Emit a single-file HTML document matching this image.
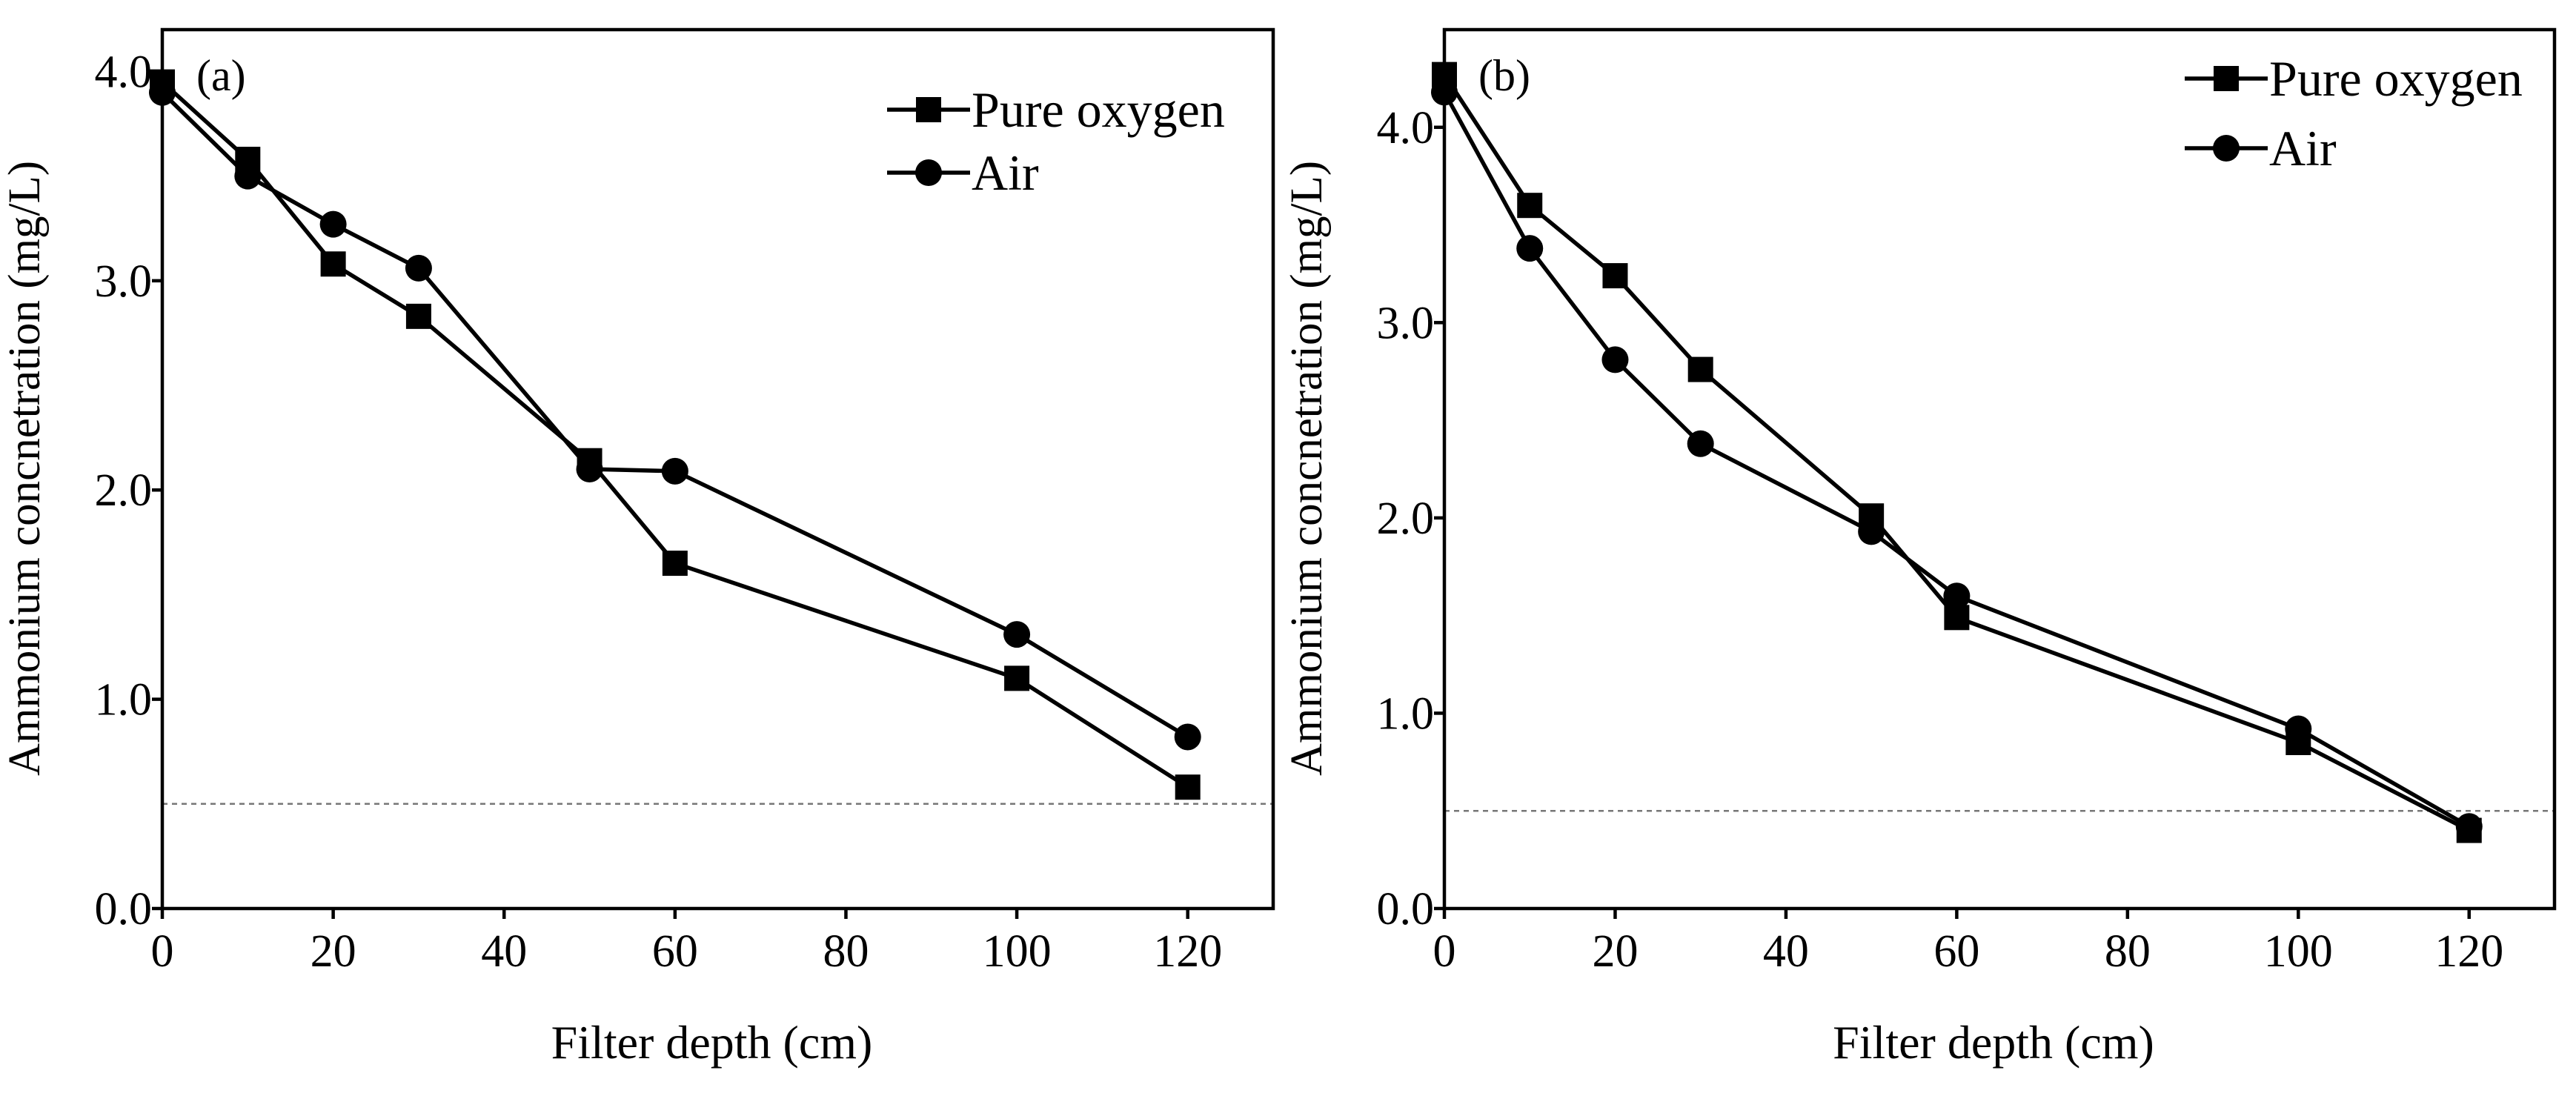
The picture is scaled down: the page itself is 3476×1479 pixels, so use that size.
<!DOCTYPE html>
<html><head><meta charset="utf-8"><style>
html,body{margin:0;padding:0;background:#fff}
svg{display:block;font-family:"Liberation Serif",serif}
</style></head><body>
<svg id="chart" width="3476" height="1479" viewBox="0 0 3476 1479"></svg>
<script>
const depths=[0,10,20,30,50,60,100,120];
const aOxygen=[3.95,3.58,3.08,2.83,2.14,1.65,1.10,0.58];
const aAir=[3.90,3.50,3.27,3.06,2.10,2.09,1.31,0.82];
const bOxygen=[4.27,3.60,3.24,2.76,2.01,1.49,0.85,0.40];
const bAir=[4.18,3.38,2.81,2.38,1.93,1.60,0.92,0.42];
const xTicks=[0,20,40,60,80,100,120];
const yTicks=[0,1,2,3,4];
const yTickLabels=["0.0","1.0","2.0","3.0","4.0"];
const threshold=0.5;

const NS="http://www.w3.org/2000/svg";
const svg=document.getElementById('chart');
function mk(tag,attrs,parent,text){const e=document.createElementNS(NS,tag);for(const k in attrs)e.setAttribute(k,attrs[k]);if(text!==undefined)e.textContent=text;(parent||svg).appendChild(e);return e;}

function panel(cfg){
  const g=mk('g',{});
  
  
  const L=cfg.left,R=cfg.right,T=40,B=1226;
  const sx=v=>L+(v-0)/130*(R-L);
  const sy=v=>B-(v/cfg.ymax)*(B-T);
  const th=mk('line',{x1:L,x2:R,y1:sy(threshold),y2:sy(threshold),stroke:'#777','stroke-width':2.5,'stroke-dasharray':'7,6'},g);
  
  
  xTicks.forEach(t=>{
    mk('line',{x1:sx(t),x2:sx(t),y1:B,y2:B+14,stroke:'#000','stroke-width':4.5},g);
    const tx=mk('text',{x:sx(t),y:B+78,'font-size':62,'text-anchor':'middle'},g,String(t));
    
    
  });
  yTicks.forEach((t,i)=>{
    mk('line',{x1:L-14,x2:L,y1:sy(t),y2:sy(t),stroke:'#000','stroke-width':4.5},g);
    const ty=mk('text',{x:L-14,y:sy(t)+21,'font-size':62,'text-anchor':'end'},g,yTickLabels[i]);
    
    
  });
  const series=[[cfg.oxy,'square','pure-oxygen'],[cfg.air,'circle','air']];
  series.forEach(([vals,shape,name])=>{
    const pts=depths.map((d,i)=>sx(d)+','+sy(vals[i])).join(' ');
    const pl=mk('polyline',{points:pts,fill:'none',stroke:'#000','stroke-width':5.5},g);
    
    
    depths.forEach((d,i)=>{
      let m;
      if(shape==='square') m=mk('rect',{x:sx(d)-17,y:sy(vals[i])-17,width:34,height:34,fill:'#000'},g);
      else m=mk('circle',{cx:sx(d),cy:sy(vals[i]),r:18,fill:'#000'},g);
      
      
    });
  });
  const fr=mk('rect',{x:L,y:T,width:R-L,height:B-T,fill:'none',stroke:'#000','stroke-width':4.5},g);
  
  
  const pl=mk('text',{x:L+46,y:122,'font-size':60},g,'('+cfg.id+')');
  
  
  cfg.legend.forEach(([y,shape,text])=>{
    const lg=mk('g',{},g);
    
    
    mk('line',{x1:cfg.legX,x2:cfg.legX+112,y1:y,y2:y,stroke:'#000','stroke-width':5.5},lg);
    if(shape==='square') mk('rect',{x:cfg.legX+56-17,y:y-17,width:34,height:34,fill:'#000'},lg);
    else mk('circle',{cx:cfg.legX+56,cy:y,r:18,fill:'#000'},lg);
    mk('text',{x:cfg.legX+114,y:y+23,'font-size':68},lg,text);
  });
  const xt=mk('text',{x:(L+R)/2-8,y:1428,'font-size':64,'text-anchor':'middle'},g,'Filter depth (cm)');
  
  
  const cy=632;
  const yt=mk('text',{x:0,y:0,'font-size':61,'text-anchor':'middle',transform:`translate(${L-166},${cy}) rotate(-90)`},g,'Ammonium concnetration (mg/L)');
  
  
}
panel({id:'a',left:219,right:1718,ymax:4.2,oxy:aOxygen,air:aAir,legX:1197,legend:[[148,'square','Pure oxygen'],[233,'circle','Air']]});
panel({id:'b',left:1949,right:3447,ymax:4.5,oxy:bOxygen,air:bAir,legX:2948,legend:[[106,'square','Pure oxygen'],[200,'circle','Air']]});
</script>
</body></html>
